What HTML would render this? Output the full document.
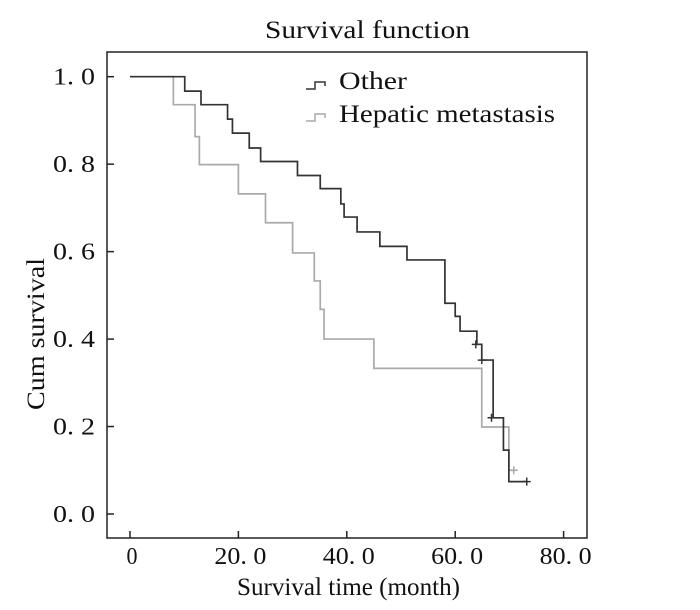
<!DOCTYPE html>
<html><head><meta charset="utf-8"><style>
body{margin:0;background:#fff;}
svg text{font-family:"Liberation Serif","Noto Serif CJK SC",serif;fill:#111;}
</style></head><body>
<svg width="700" height="605">
<text x="265" y="38" font-size="25" textLength="205" lengthAdjust="spacingAndGlyphs">Survival function</text>
<rect x="107" y="52" width="480" height="486" fill="none" stroke="#222" stroke-width="1.5"/>
<g id="axes"></g>
<g id="curves"></g>
<g>
<path d="M306 89 h9 v-7 h10 v4" fill="none" stroke="#333" stroke-width="1.5"/>
<text x="339" y="89" font-size="25" textLength="68" lengthAdjust="spacingAndGlyphs">Other</text>
<path d="M306 121 h9 v-7 h10 v4" fill="none" stroke="#aaa" stroke-width="1.5"/>
<text x="339" y="122" font-size="25" textLength="216" lengthAdjust="spacingAndGlyphs">Hepatic metastasis</text>
</g>
<text x="237" y="595" font-size="25" textLength="223" lengthAdjust="spacingAndGlyphs">Survival time (month)</text>
<text transform="translate(44,410) rotate(-90)" font-size="25" textLength="152" lengthAdjust="spacingAndGlyphs">Cum survival</text>
</svg>
<script>
const xTicks=[0,20,40,60,80];
const xTickLabels=["0","20. 0","40. 0","60. 0","80. 0"];
const yTicks=[0,0.2,0.4,0.6,0.8,1.0];
const yTickLabels=["0. 0","0. 2","0. 4","0. 6","0. 8","1. 0"];
const otherTimes=[0,10.1,13.1,18.0,18.9,22.0,24.1,30.9,35.1,38.9,39.5,41.9,46.1,51.1,58.1,60.0,60.9,64.0,64.9,67.0,68.9,69.9];
const otherSurv=[1.0,0.967,0.936,0.903,0.871,0.837,0.806,0.774,0.744,0.709,0.679,0.645,0.612,0.581,0.482,0.452,0.418,0.388,0.352,0.220,0.146,0.074];
const otherEnd=73.2;
const otherCensorT=[63.8,64.9,66.7,73.2];
const otherCensorS=[0.388,0.352,0.220,0.074];
const hepTimes=[0,8.0,12.0,12.8,20.0,25.0,30.0,34.0,35.1,35.8,45.0,64.9,69.9];
const hepSurv=[1.0,0.936,0.863,0.799,0.732,0.666,0.597,0.533,0.468,0.400,0.333,0.199,0.100];
const hepEnd=71.3;
const hepCensorT=[70.8];
const hepCensorS=[0.100];
const X=t=>130+t*5.42;
const Y=s=>514-s*437.3;
const NS="http://www.w3.org/2000/svg";
const ax=document.getElementById('axes'),cv=document.getElementById('curves');
function mk(tag,attrs,parent){const e=document.createElementNS(NS,tag);for(const k in attrs)e.setAttribute(k,attrs[k]);parent.appendChild(e);return e;}
xTicks.forEach((t,i)=>{
 const l=mk('line',{x1:X(t),x2:X(t),y1:538,y2:531,stroke:'#222','stroke-width':1.5},ax);
 
 
 const w=xTickLabels[i].length>1?52:11;
 const tx=mk('text',{x:X(t)-w/2+2,y:564,'font-size':24,textLength:w,lengthAdjust:'spacingAndGlyphs'},ax);tx.textContent=xTickLabels[i];
 
 
});
yTicks.forEach((s,i)=>{
 const l=mk('line',{x1:107,x2:114,y1:Y(s),y2:Y(s),stroke:'#222','stroke-width':1.5},ax);
 
 
 const tx=mk('text',{x:53,y:Y(s)+8,'font-size':24,textLength:42,lengthAdjust:'spacingAndGlyphs'},ax);tx.textContent=yTickLabels[i];
 
 
});
function curve(times,surv,end,ct,cs,color,name){
 let d='M'+X(times[0])+' '+Y(surv[0]);
 for(let i=1;i<times.length;i++){d+=' H'+X(times[i])+' V'+Y(surv[i]);}
 d+=' H'+X(end);
 const p=mk('path',{d:d,fill:'none',stroke:color,'stroke-width':1.7},cv);
 
 
 ct.forEach((t,i)=>{
  const c=mk('path',{d:`M${X(t)-4} ${Y(cs[i])} h8 M${X(t)} ${Y(cs[i])-4} v8`,stroke:color,'stroke-width':1.5},cv);
  
  
 });
}
curve(hepTimes,hepSurv,hepEnd,hepCensorT,hepCensorS,'#aaa','hepatic');
curve(otherTimes,otherSurv,otherEnd,otherCensorT,otherCensorS,'#333','other');
</script>
</body></html>
